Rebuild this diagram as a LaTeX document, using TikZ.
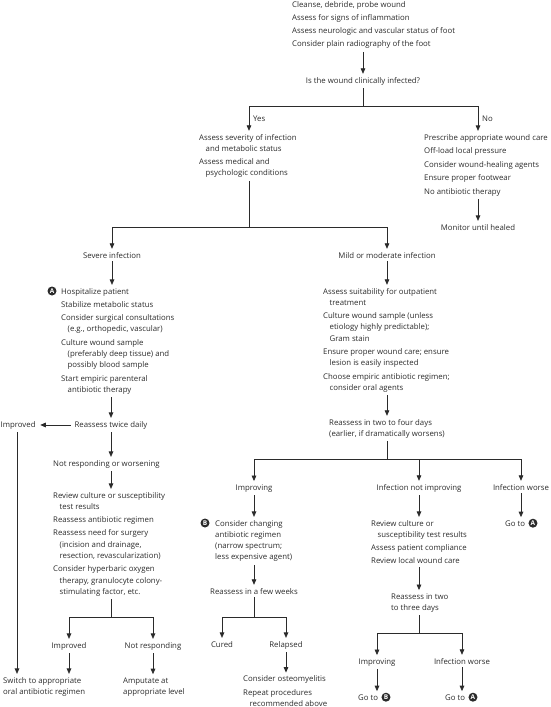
\documentclass[tikz,border=0pt]{standalone}
\usepackage{fontspec}
\setmainfont{Open Sans}
\usetikzlibrary{arrows.meta}
\definecolor{ink}{HTML}{2B2B2B}
\newcommand\hind{\hspace*{6.5pt}}
\begin{document}
\begin{tikzpicture}[x=1pt,y=-1pt,
  font=\fontsize{7.8}{11.3}\selectfont, color=ink,
  txt/.style={inner xsep=0pt, inner ysep=3pt, align=left, text=ink},
  arr/.style={-{Triangle[length=5.5pt,width=4.6pt]}, line width=0.8pt, draw=ink},
  ln/.style={line width=0.8pt, draw=ink},
  circ/.style={circle, fill=ink, text=white, inner sep=0pt, minimum size=9pt,
    font=\fontsize{6.5}{6.5}\selectfont\bfseries}]
\useasboundingbox (0,0) rectangle (550,707);

% top (anchors are at the baseline of the last line)
\node[txt, anchor=base west] (tb) at (292,46.9) {Cleanse, debride, probe wound\\[2pt]Assess for signs of inflammation\\[2pt]Assess neurologic and vascular status of foot\\[2pt]Consider plain radiography of the foot};
\node[txt, anchor=base] (q) at (363,83) {Is the wound clinically infected?};
\draw[arr] (tb.south -| q) -- (q);
\coordinate (jq) at (363,106);
\draw[ln] (q) -- (jq);
\node[txt, anchor=base west] (yes) at (253,121) {Yes};
\node[txt, anchor=base west] (no) at (482,121) {No};

% yes / no blocks
\node[txt, anchor=base west] (ys) at (199,175.9) {Assess severity of infection\\\hind and metabolic status\\[2pt]Assess medical and\\\hind psychologic conditions};
\node[txt, anchor=base west] (nb) at (424,194) {Prescribe appropriate wound care\\[2.2pt]Off-load local pressure\\[2.2pt]Consider wound-healing agents\\[2.2pt]Ensure proper footwear\\[2.2pt]No antibiotic therapy};
\draw[arr] (jq) -| (ys.north -| 249,0);
\draw[arr] (jq) -| (nb.north -| 478,0);
\node[txt, anchor=base] (mon) at (478,230) {Monitor until healed};
\draw[arr] (nb.south -| mon) -- (mon);

% severity split
\coordinate (jy) at (249,227);
\draw[ln] (ys.south -| jy) -- (jy);
\node[txt, anchor=base] (sev) at (112,258) {Severe infection};
\node[txt, anchor=base] (mild) at (387,258) {Mild or moderate infection};
\draw[arr] (jy) -| (sev);
\draw[arr] (jy) -| (mild);

% severe branch
\node[circ] (cA0) at (52,291) {A};
\node[txt, anchor=base west] (hosp) at (61,392.4) {Hospitalize patient\\[2pt]Stabilize metabolic status\\[2pt]Consider surgical consultations\\\hind(e.g., orthopedic, vascular)\\[2pt]Culture wound sample\\\hind(preferably deep tissue) and\\\hind possibly blood sample\\[2pt]Start empiric parenteral\\\hind antibiotic therapy};
\draw[arr] (sev) -- (hosp.north -| sev);
\node[txt, anchor=base] (rtd) at (111,427) {Reassess twice daily};
\draw[arr] (hosp.south -| rtd) -- (rtd);
\node[txt, anchor=base west] (imp1) at (0.5,427) {Improved};
\draw[arr, shorten <=3.5pt, shorten >=4.5pt] (rtd.west) -- (imp1.east);
\node[txt, anchor=base west] (nrw) at (53,466) {Not responding or worsening};
\draw[arr] (rtd) -- (nrw.north -| rtd);
\node[txt, anchor=base west] (rev) at (53,594.4) {Review culture or susceptibility\\\hind test results\\[2pt]Reassess antibiotic regimen\\[2pt]Reassess need for surgery\\\hind(incision and drainage,\\\hind resection, revascularization)\\[2pt]Consider hyperbaric oxygen\\\hind therapy, granulocyte colony-\\\hind stimulating factor, etc.};
\draw[arr] (nrw.south -| rtd) -- (rev.north -| rtd);
\coordinate (jr) at (111,617);
\draw[ln] (rev.south -| jr) -- (jr);
\node[txt, anchor=base] (imp2) at (69,648) {Improved};
\node[txt, anchor=base] (nresp) at (153,648) {Not responding};
\draw[arr] (jr) -| (imp2);
\draw[arr] (jr) -| (nresp);
\node[txt, anchor=base west] (sw) at (3,694.3) {Switch to appropriate\\oral antibiotic regimen};
\node[txt, anchor=base west] (amp) at (123,694.3) {Amputate at\\appropriate level};
\draw[arr] (imp1.south -| 17,0) -- (sw.north -| 17,0);
\draw[arr] (imp2) -- (sw.north -| imp2);
\draw[arr] (nresp) -- (amp.north -| nresp);

% mild branch
\node[txt, anchor=base west] (out) at (323,390.4) {Assess suitability for outpatient\\\hind treatment\\[2pt]Culture wound sample (unless\\\hind etiology highly predictable);\\\hind Gram stain\\[2pt]Ensure proper wound care; ensure\\\hind lesion is easily inspected\\[2pt]Choose empiric antibiotic regimen;\\\hind consider oral agents};
\draw[arr] (mild) -- (out.north -| mild);
\node[txt, anchor=base west] (r24) at (329,436.3) {Reassess in two to four days\\(earlier, if dramatically worsens)};
\draw[arr] (out.south -| mild) -- (r24.north -| mild);
\coordinate (jm) at (387,459);
\draw[ln] (r24.south -| jm) -- (jm);
\node[txt, anchor=base] (impB) at (254,490) {Improving};
\node[txt, anchor=base] (ni) at (419,490) {Infection not improving};
\node[txt, anchor=base] (iw) at (521,490) {Infection worse};
\draw[arr] (jm) -| (impB);
\draw[arr] (jm) -| (ni);
\draw[arr] (jm) -| (iw);

% infection worse
\node[txt, anchor=base west] (goA1) at (505,526) {Go to};
\node[circ, anchor=west] (cA1) at ([xshift=3pt,yshift=2.8pt]goA1.base east) {A};
\draw[arr] (iw) -- (goA1.north -| iw);

% not improving
\node[txt, anchor=base west] (rcs) at (371,563.9) {Review culture or\\\hind susceptibility test results\\[2pt]Assess patient compliance\\[2pt]Review local wound care};
\draw[arr] (ni) -- (rcs.north -| ni);
\node[txt, anchor=base west] (r23) at (391,610.3) {Reassess in two\\to three days};
\draw[arr] (rcs.south -| ni) -- (r23.north -| ni);
\coordinate (jn) at (419,633);
\draw[ln] (r23.south -| jn) -- (jn);
\node[txt, anchor=base] (imp3) at (377,664) {Improving};
\node[txt, anchor=base] (iw2) at (462,664) {Infection worse};
\draw[arr] (jn) -| (imp3);
\draw[arr] (jn) -| (iw2);
\node[txt, anchor=base west] (goB) at (358,700) {Go to};
\node[circ, anchor=west] (cB1) at ([xshift=3pt,yshift=2.8pt]goB.base east) {B};
\node[txt, anchor=base west] (goA2) at (445,700) {Go to};
\node[circ, anchor=west] (cA2) at ([xshift=3pt,yshift=2.8pt]goA2.base east) {A};
\draw[arr] (imp3) -- (goB.north -| imp3);
\draw[arr] (iw2) -- (goA2.north -| iw2);

% improving
\node[circ] (cB0) at (205,523) {B};
\node[txt, anchor=base west] (chg) at (215,559.9) {Consider changing\\antibiotic regimen\\(narrow spectrum;\\less expensive agent)};
\draw[arr] (impB) -- (chg.north -| impB);
\node[txt, anchor=base] (rfw) at (254,594) {Reassess in a few weeks};
\draw[arr] (chg.south -| rfw) -- (rfw);
\coordinate (jb) at (254,617);
\draw[ln] (rfw) -- (jb);
\node[txt, anchor=base] (cured) at (222,647) {Cured};
\node[txt, anchor=base] (rel) at (286,647) {Relapsed};
\draw[arr] (jb) -| (cured);
\draw[arr] (jb) -| (rel);
\node[txt, anchor=base west] (osteo) at (243,706.3) {Consider osteomyelitis\\[2pt]Repeat procedures\\\hind recommended above};
\draw[arr] (rel) -- (osteo.north -| rel);
\end{tikzpicture}
\end{document}
